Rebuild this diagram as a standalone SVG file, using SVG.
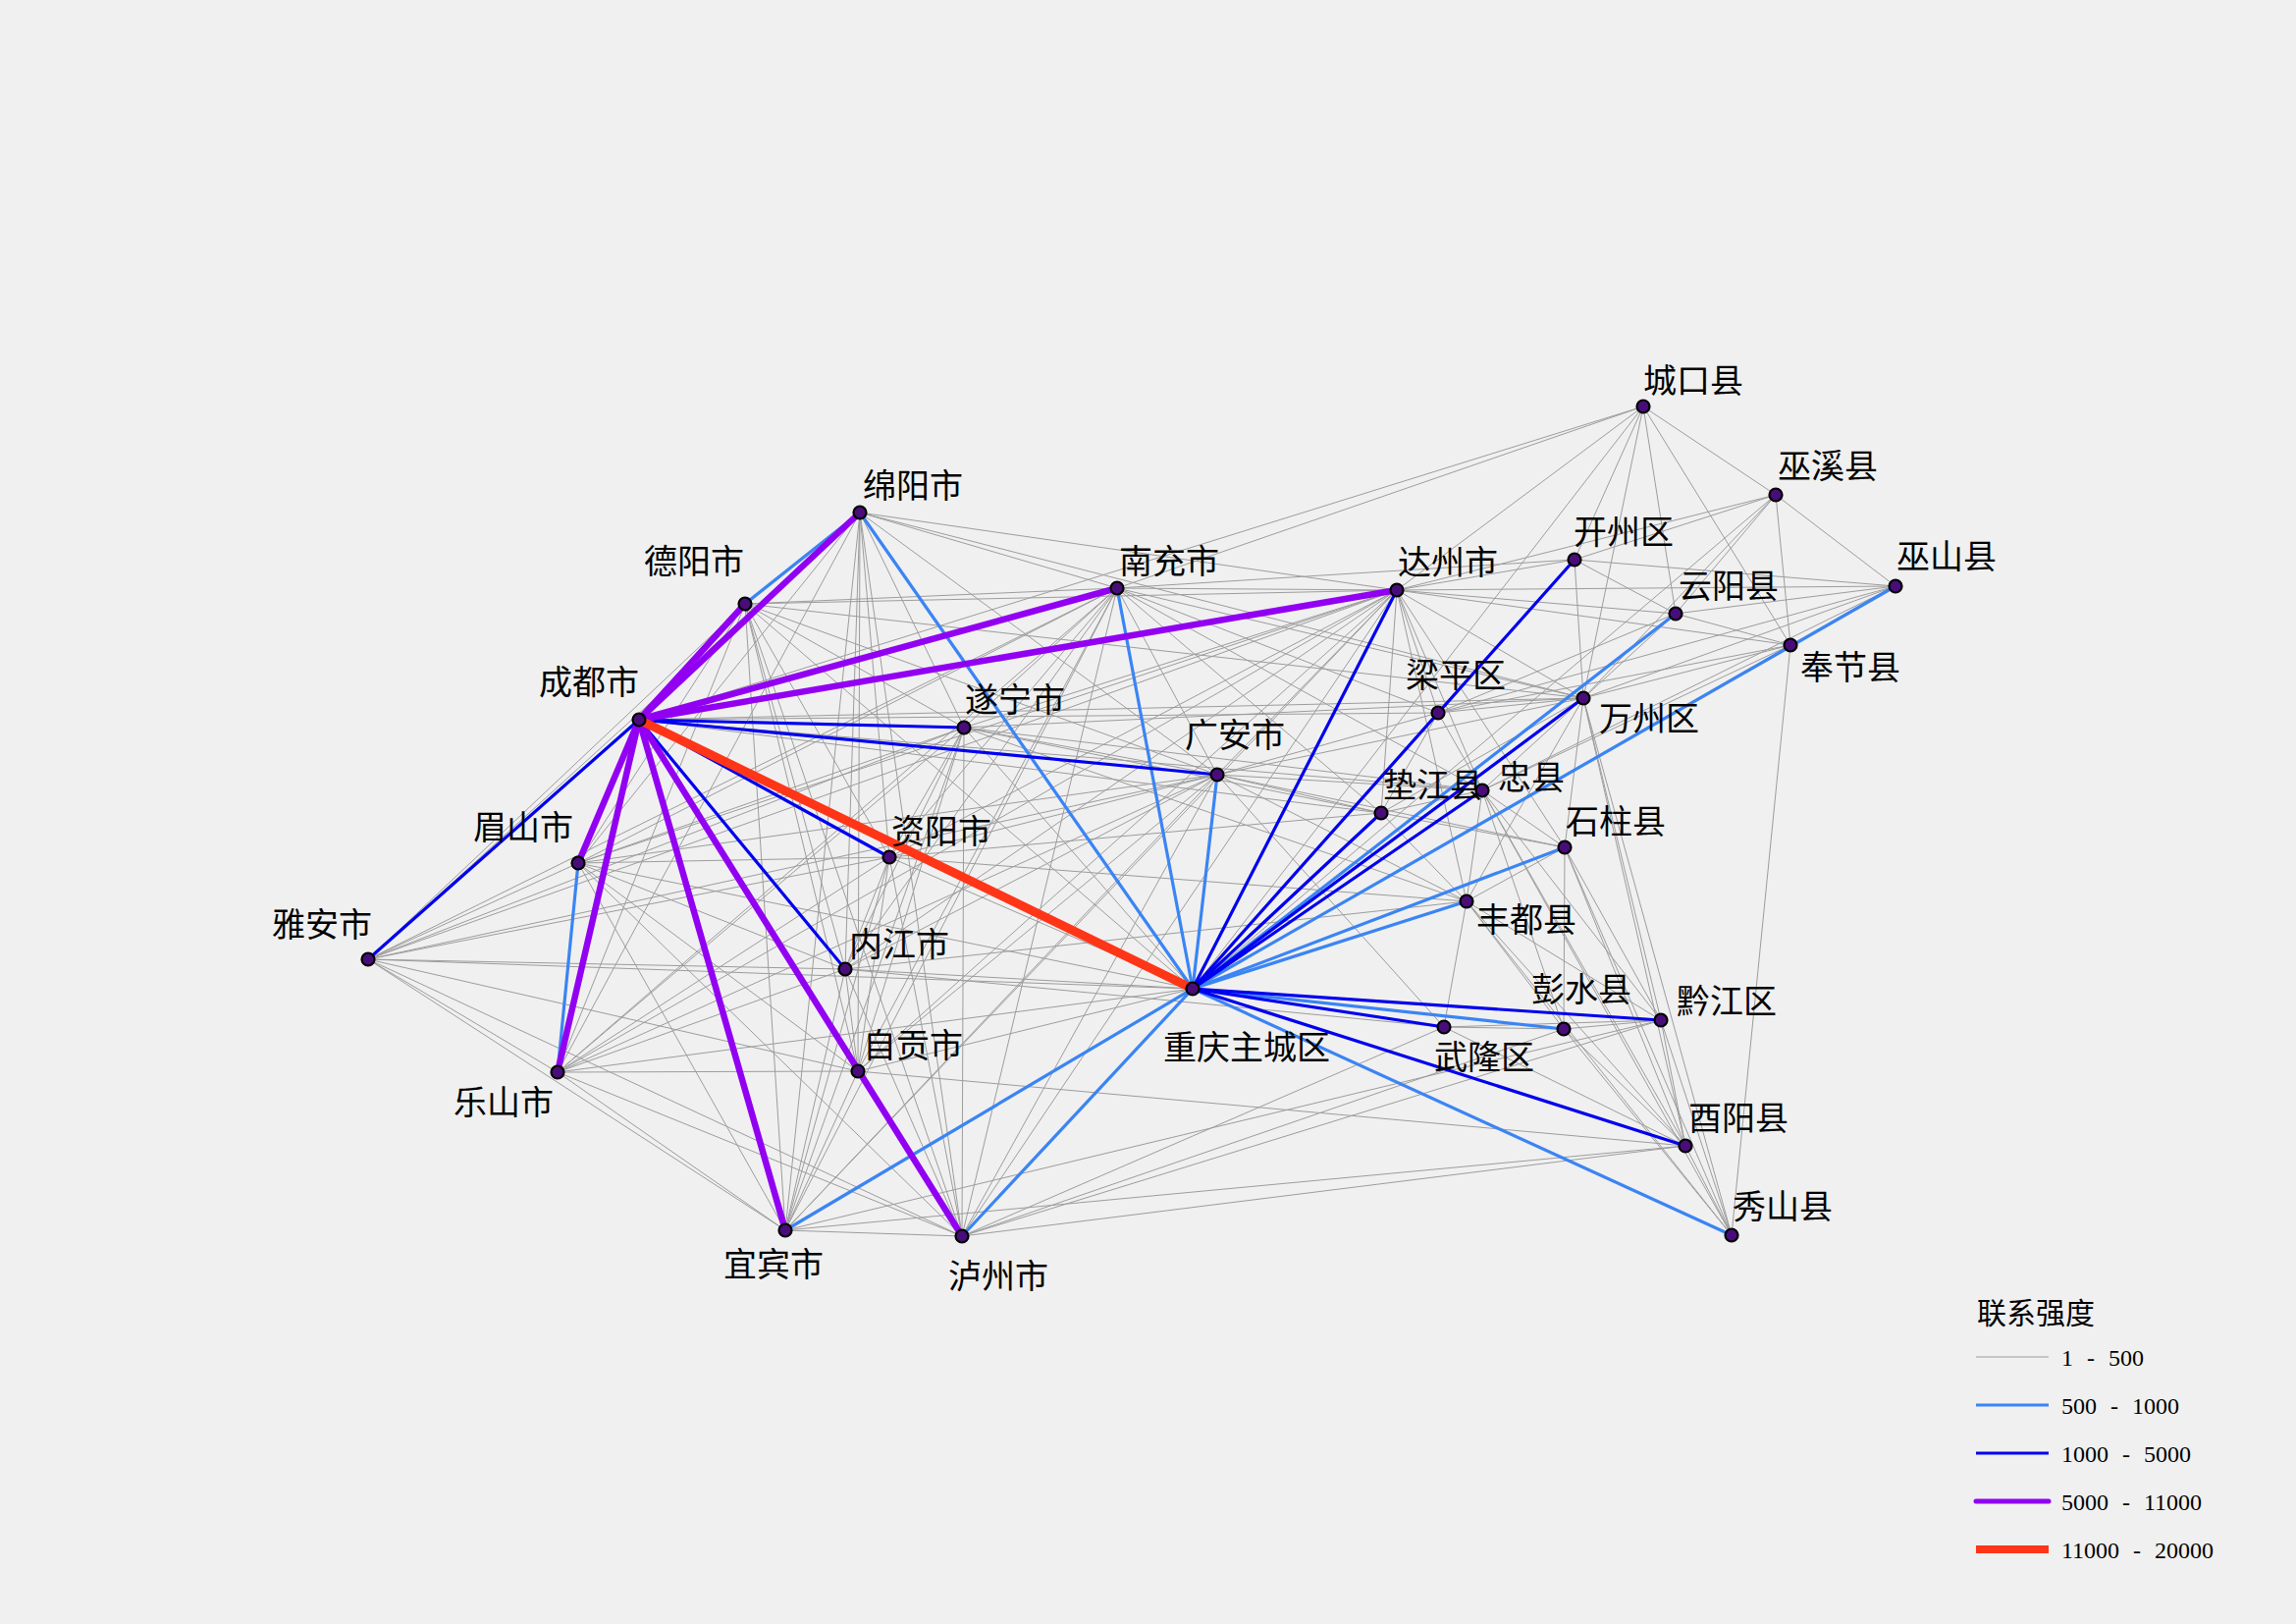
<svg xmlns="http://www.w3.org/2000/svg" width="2339" height="1654" viewBox="0 0 2339 1654">
<style>
.g line{stroke:#9c9c9c;stroke-width:1;fill:none}
.lb{stroke:#3b84f4;stroke-width:3.2;fill:none;stroke-linecap:round}
.bl{stroke:#0000ee;stroke-width:3.2;fill:none;stroke-linecap:round}
.pu{stroke:#9200f2;stroke-width:6.5;fill:none;stroke-linecap:round}
.rd{stroke:#ff3518;stroke-width:9;fill:none;stroke-linecap:round}
.node circle{fill:#480d79;stroke:#000;stroke-width:2.2}
.lbl{font-family:"Liberation Serif","Noto Sans CJK SC",serif;font-size:34px;fill:#000}
.lt{font-family:"Liberation Serif","Noto Sans CJK SC",serif;font-size:30px;fill:#000}
.ln{font-family:"Liberation Serif",serif;font-size:24px;fill:#000;word-spacing:8px}
</style>
<rect width="2339" height="1654" fill="#f0f0f0"/>
<g id="connectors">
<g class="g" id="edges-1-500">
<line x1="759" y1="615" x2="1138" y2="599"/><line x1="759" y1="615" x2="1423" y2="601"/><line x1="759" y1="615" x2="982" y2="741"/><line x1="759" y1="615" x2="1240" y2="789"/><line x1="759" y1="615" x2="589" y2="879"/><line x1="759" y1="615" x2="375" y2="977"/><line x1="759" y1="615" x2="906" y2="873"/><line x1="759" y1="615" x2="861" y2="987"/><line x1="759" y1="615" x2="568" y2="1092"/><line x1="759" y1="615" x2="874" y2="1091"/><line x1="759" y1="615" x2="800" y2="1253"/><line x1="759" y1="615" x2="980" y2="1259"/>
<line x1="876" y1="522" x2="1138" y2="599"/><line x1="876" y1="522" x2="1423" y2="601"/><line x1="876" y1="522" x2="982" y2="741"/><line x1="876" y1="522" x2="1240" y2="789"/><line x1="876" y1="522" x2="589" y2="879"/><line x1="876" y1="522" x2="375" y2="977"/><line x1="876" y1="522" x2="906" y2="873"/><line x1="876" y1="522" x2="861" y2="987"/><line x1="876" y1="522" x2="568" y2="1092"/><line x1="876" y1="522" x2="874" y2="1091"/><line x1="876" y1="522" x2="800" y2="1253"/><line x1="876" y1="522" x2="980" y2="1259"/>
<line x1="1138" y1="599" x2="1423" y2="601"/><line x1="1138" y1="599" x2="982" y2="741"/><line x1="1138" y1="599" x2="1240" y2="789"/><line x1="1138" y1="599" x2="589" y2="879"/><line x1="1138" y1="599" x2="375" y2="977"/><line x1="1138" y1="599" x2="906" y2="873"/><line x1="1138" y1="599" x2="861" y2="987"/><line x1="1138" y1="599" x2="568" y2="1092"/><line x1="1138" y1="599" x2="874" y2="1091"/><line x1="1138" y1="599" x2="800" y2="1253"/><line x1="1138" y1="599" x2="980" y2="1259"/>
<line x1="1423" y1="601" x2="982" y2="741"/><line x1="1423" y1="601" x2="1240" y2="789"/><line x1="1423" y1="601" x2="589" y2="879"/><line x1="1423" y1="601" x2="375" y2="977"/><line x1="1423" y1="601" x2="906" y2="873"/><line x1="1423" y1="601" x2="861" y2="987"/><line x1="1423" y1="601" x2="568" y2="1092"/><line x1="1423" y1="601" x2="874" y2="1091"/><line x1="1423" y1="601" x2="800" y2="1253"/><line x1="1423" y1="601" x2="980" y2="1259"/>
<line x1="982" y1="741" x2="1240" y2="789"/><line x1="982" y1="741" x2="589" y2="879"/><line x1="982" y1="741" x2="375" y2="977"/><line x1="982" y1="741" x2="906" y2="873"/><line x1="982" y1="741" x2="861" y2="987"/><line x1="982" y1="741" x2="568" y2="1092"/><line x1="982" y1="741" x2="874" y2="1091"/><line x1="982" y1="741" x2="800" y2="1253"/><line x1="982" y1="741" x2="980" y2="1259"/>
<line x1="1240" y1="789" x2="589" y2="879"/><line x1="1240" y1="789" x2="375" y2="977"/><line x1="1240" y1="789" x2="906" y2="873"/><line x1="1240" y1="789" x2="861" y2="987"/><line x1="1240" y1="789" x2="568" y2="1092"/><line x1="1240" y1="789" x2="874" y2="1091"/><line x1="1240" y1="789" x2="800" y2="1253"/><line x1="1240" y1="789" x2="980" y2="1259"/>
<line x1="589" y1="879" x2="375" y2="977"/><line x1="589" y1="879" x2="906" y2="873"/><line x1="589" y1="879" x2="861" y2="987"/><line x1="589" y1="879" x2="874" y2="1091"/><line x1="589" y1="879" x2="800" y2="1253"/><line x1="589" y1="879" x2="980" y2="1259"/>
<line x1="375" y1="977" x2="906" y2="873"/><line x1="375" y1="977" x2="861" y2="987"/><line x1="375" y1="977" x2="568" y2="1092"/><line x1="375" y1="977" x2="874" y2="1091"/><line x1="375" y1="977" x2="800" y2="1253"/><line x1="375" y1="977" x2="980" y2="1259"/>
<line x1="906" y1="873" x2="861" y2="987"/><line x1="906" y1="873" x2="568" y2="1092"/><line x1="906" y1="873" x2="874" y2="1091"/><line x1="906" y1="873" x2="800" y2="1253"/><line x1="906" y1="873" x2="980" y2="1259"/>
<line x1="861" y1="987" x2="568" y2="1092"/><line x1="861" y1="987" x2="874" y2="1091"/><line x1="861" y1="987" x2="800" y2="1253"/><line x1="861" y1="987" x2="980" y2="1259"/>
<line x1="568" y1="1092" x2="874" y2="1091"/><line x1="568" y1="1092" x2="800" y2="1253"/><line x1="568" y1="1092" x2="980" y2="1259"/>
<line x1="874" y1="1091" x2="800" y2="1253"/><line x1="874" y1="1091" x2="980" y2="1259"/>
<line x1="800" y1="1253" x2="980" y2="1259"/>
<line x1="1215" y1="1007" x2="759" y2="615"/><line x1="1215" y1="1007" x2="982" y2="741"/><line x1="1215" y1="1007" x2="589" y2="879"/><line x1="1215" y1="1007" x2="375" y2="977"/><line x1="1215" y1="1007" x2="906" y2="873"/><line x1="1215" y1="1007" x2="861" y2="987"/><line x1="1215" y1="1007" x2="568" y2="1092"/><line x1="1215" y1="1007" x2="874" y2="1091"/><line x1="1215" y1="1007" x2="1674" y2="414"/><line x1="1215" y1="1007" x2="1809" y2="504"/><line x1="1215" y1="1007" x2="1465" y2="726"/><line x1="1215" y1="1007" x2="1824" y2="657"/>
<line x1="1674" y1="414" x2="1809" y2="504"/><line x1="1674" y1="414" x2="1604" y2="570"/><line x1="1674" y1="414" x2="1707" y2="625"/><line x1="1674" y1="414" x2="1613" y2="711"/><line x1="1674" y1="414" x2="1824" y2="657"/>
<line x1="1809" y1="504" x2="1604" y2="570"/><line x1="1809" y1="504" x2="1707" y2="625"/><line x1="1809" y1="504" x2="1931" y2="597"/><line x1="1809" y1="504" x2="1824" y2="657"/><line x1="1809" y1="504" x2="1613" y2="711"/>
<line x1="1604" y1="570" x2="1707" y2="625"/><line x1="1604" y1="570" x2="1613" y2="711"/><line x1="1604" y1="570" x2="1931" y2="597"/><line x1="1604" y1="570" x2="1465" y2="726"/>
<line x1="1931" y1="597" x2="1707" y2="625"/><line x1="1931" y1="597" x2="1824" y2="657"/><line x1="1931" y1="597" x2="1613" y2="711"/><line x1="1931" y1="597" x2="1465" y2="726"/><line x1="1931" y1="597" x2="1510" y2="805"/>
<line x1="1707" y1="625" x2="1824" y2="657"/><line x1="1707" y1="625" x2="1613" y2="711"/><line x1="1707" y1="625" x2="1465" y2="726"/>
<line x1="1824" y1="657" x2="1764" y2="1258"/><line x1="1824" y1="657" x2="1465" y2="726"/><line x1="1824" y1="657" x2="1510" y2="805"/><line x1="1824" y1="657" x2="1613" y2="711"/>
<line x1="1465" y1="726" x2="1613" y2="711"/><line x1="1465" y1="726" x2="1407" y2="828"/><line x1="1465" y1="726" x2="1510" y2="805"/>
<line x1="1613" y1="711" x2="1510" y2="805"/><line x1="1613" y1="711" x2="1594" y2="863"/><line x1="1613" y1="711" x2="1407" y2="828"/><line x1="1613" y1="711" x2="1494" y2="918"/><line x1="1613" y1="711" x2="1692" y2="1039"/><line x1="1613" y1="711" x2="1717" y2="1167"/><line x1="1613" y1="711" x2="1764" y2="1258"/>
<line x1="1407" y1="828" x2="1510" y2="805"/><line x1="1407" y1="828" x2="1494" y2="918"/><line x1="1407" y1="828" x2="1594" y2="863"/>
<line x1="1510" y1="805" x2="1594" y2="863"/><line x1="1510" y1="805" x2="1494" y2="918"/><line x1="1510" y1="805" x2="1593" y2="1048"/><line x1="1510" y1="805" x2="1692" y2="1039"/><line x1="1510" y1="805" x2="1717" y2="1167"/><line x1="1510" y1="805" x2="1764" y2="1258"/>
<line x1="1594" y1="863" x2="1494" y2="918"/><line x1="1594" y1="863" x2="1593" y2="1048"/><line x1="1594" y1="863" x2="1692" y2="1039"/><line x1="1594" y1="863" x2="1717" y2="1167"/><line x1="1594" y1="863" x2="1764" y2="1258"/>
<line x1="1494" y1="918" x2="1471" y2="1046"/><line x1="1494" y1="918" x2="1593" y2="1048"/><line x1="1494" y1="918" x2="1692" y2="1039"/><line x1="1494" y1="918" x2="1717" y2="1167"/><line x1="1494" y1="918" x2="1764" y2="1258"/>
<line x1="1471" y1="1046" x2="1593" y2="1048"/><line x1="1471" y1="1046" x2="1692" y2="1039"/><line x1="1471" y1="1046" x2="1717" y2="1167"/>
<line x1="1593" y1="1048" x2="1692" y2="1039"/><line x1="1593" y1="1048" x2="1717" y2="1167"/><line x1="1593" y1="1048" x2="1764" y2="1258"/>
<line x1="1692" y1="1039" x2="1717" y2="1167"/><line x1="1692" y1="1039" x2="1764" y2="1258"/>
<line x1="1717" y1="1167" x2="1764" y2="1258"/>
<line x1="1423" y1="601" x2="1674" y2="414"/><line x1="1423" y1="601" x2="1809" y2="504"/><line x1="1423" y1="601" x2="1604" y2="570"/><line x1="1423" y1="601" x2="1931" y2="597"/><line x1="1423" y1="601" x2="1707" y2="625"/><line x1="1423" y1="601" x2="1824" y2="657"/><line x1="1423" y1="601" x2="1465" y2="726"/><line x1="1423" y1="601" x2="1613" y2="711"/><line x1="1423" y1="601" x2="1407" y2="828"/><line x1="1423" y1="601" x2="1510" y2="805"/><line x1="1423" y1="601" x2="1594" y2="863"/><line x1="1423" y1="601" x2="1494" y2="918"/>
<line x1="1138" y1="599" x2="1674" y2="414"/><line x1="1138" y1="599" x2="1604" y2="570"/><line x1="1138" y1="599" x2="1613" y2="711"/><line x1="1138" y1="599" x2="1465" y2="726"/><line x1="1138" y1="599" x2="1407" y2="828"/><line x1="1138" y1="599" x2="1510" y2="805"/>
<line x1="1240" y1="789" x2="1465" y2="726"/><line x1="1240" y1="789" x2="1613" y2="711"/><line x1="1240" y1="789" x2="1407" y2="828"/><line x1="1240" y1="789" x2="1510" y2="805"/><line x1="1240" y1="789" x2="1494" y2="918"/><line x1="1240" y1="789" x2="1594" y2="863"/><line x1="1240" y1="789" x2="1471" y2="1046"/>
<line x1="982" y1="741" x2="1613" y2="711"/><line x1="982" y1="741" x2="1407" y2="828"/><line x1="982" y1="741" x2="1510" y2="805"/><line x1="982" y1="741" x2="1494" y2="918"/>
<line x1="651" y1="733" x2="1674" y2="414"/><line x1="876" y1="522" x2="1613" y2="711"/>
<line x1="759" y1="615" x2="1613" y2="711"/>
<line x1="906" y1="873" x2="1407" y2="828"/><line x1="906" y1="873" x2="1494" y2="918"/>
<line x1="861" y1="987" x2="1494" y2="918"/><line x1="861" y1="987" x2="1471" y2="1046"/>
<line x1="980" y1="1259" x2="1692" y2="1039"/><line x1="980" y1="1259" x2="1717" y2="1167"/><line x1="980" y1="1259" x2="1471" y2="1046"/><line x1="980" y1="1259" x2="1593" y2="1048"/>
<line x1="800" y1="1253" x2="1717" y2="1167"/><line x1="800" y1="1253" x2="1692" y2="1039"/>
<line x1="874" y1="1091" x2="1717" y2="1167"/>
<line x1="651" y1="733" x2="1613" y2="711"/><line x1="651" y1="733" x2="1465" y2="726"/><line x1="651" y1="733" x2="1407" y2="828"/><line x1="651" y1="733" x2="1510" y2="805"/>
</g>
<g id="edges-500-1000">
<line class="lb" x1="759" y1="615" x2="876" y2="522"/>
<line class="lb" x1="589" y1="879" x2="568" y2="1092"/>
<line class="lb" x1="1215" y1="1007" x2="876" y2="522"/>
<line class="lb" x1="1215" y1="1007" x2="1138" y2="599"/>
<line class="lb" x1="1215" y1="1007" x2="1240" y2="789"/>
<line class="lb" x1="1215" y1="1007" x2="800" y2="1253"/>
<line class="lb" x1="1215" y1="1007" x2="980" y2="1259"/>
<line class="lb" x1="1215" y1="1007" x2="1707" y2="625"/>
<line class="lb" x1="1215" y1="1007" x2="1931" y2="597"/>
<line class="lb" x1="1215" y1="1007" x2="1594" y2="863"/>
<line class="lb" x1="1215" y1="1007" x2="1494" y2="918"/>
<line class="lb" x1="1215" y1="1007" x2="1593" y2="1048"/>
<line class="lb" x1="1215" y1="1007" x2="1764" y2="1258"/>
</g>
<g id="edges-1000-5000">
<line class="bl" x1="651" y1="733" x2="375" y2="977"/>
<line class="bl" x1="651" y1="733" x2="982" y2="741"/>
<line class="bl" x1="651" y1="733" x2="1240" y2="789"/>
<line class="bl" x1="651" y1="733" x2="906" y2="873"/>
<line class="bl" x1="651" y1="733" x2="861" y2="987"/>
<line class="bl" x1="1215" y1="1007" x2="1423" y2="601"/>
<line class="bl" x1="1215" y1="1007" x2="1604" y2="570"/>
<line class="bl" x1="1215" y1="1007" x2="1613" y2="711"/>
<line class="bl" x1="1215" y1="1007" x2="1407" y2="828"/>
<line class="bl" x1="1215" y1="1007" x2="1510" y2="805"/>
<line class="bl" x1="1215" y1="1007" x2="1692" y2="1039"/>
<line class="bl" x1="1215" y1="1007" x2="1471" y2="1046"/>
<line class="bl" x1="1215" y1="1007" x2="1717" y2="1167"/>
</g>
<g id="edges-5000-11000">
<line class="pu" x1="651" y1="733" x2="876" y2="522"/>
<line class="pu" x1="651" y1="733" x2="759" y2="615"/>
<line class="pu" x1="651" y1="733" x2="1138" y2="599"/>
<line class="pu" x1="651" y1="733" x2="1423" y2="601"/>
<line class="pu" x1="651" y1="733" x2="589" y2="879"/>
<line class="pu" x1="651" y1="733" x2="568" y2="1092"/>
<line class="pu" x1="651" y1="733" x2="800" y2="1253"/>
<line class="pu" x1="651" y1="733" x2="980" y2="1259"/>
</g>
<g id="edges-11000-20000">
<line class="rd" x1="651" y1="733" x2="1215" y2="1007"/>
</g>
</g>
<g id="nodes">
<g class="node" id="n-chengdu"><circle cx="651" cy="733" r="6.5"/><text class="lbl" x="549" y="707">成都市</text></g>
<g class="node" id="n-chongqing"><circle cx="1215" cy="1007" r="6.5"/><text class="lbl" x="1185" y="1079">重庆主城区</text></g>
<g class="node" id="n-mianyang"><circle cx="876" cy="522" r="6.5"/><text class="lbl" x="879" y="507">绵阳市</text></g>
<g class="node" id="n-deyang"><circle cx="759" cy="615" r="6.5"/><text class="lbl" x="656" y="584">德阳市</text></g>
<g class="node" id="n-nanchong"><circle cx="1138" cy="599" r="6.5"/><text class="lbl" x="1140" y="584">南充市</text></g>
<g class="node" id="n-dazhou"><circle cx="1423" cy="601" r="6.5"/><text class="lbl" x="1424" y="585">达州市</text></g>
<g class="node" id="n-suining"><circle cx="982" cy="741" r="6.5"/><text class="lbl" x="983" y="725">遂宁市</text></g>
<g class="node" id="n-guangan"><circle cx="1240" cy="789" r="6.5"/><text class="lbl" x="1207" y="761">广安市</text></g>
<g class="node" id="n-meishan"><circle cx="589" cy="879" r="6.5"/><text class="lbl" x="482" y="855">眉山市</text></g>
<g class="node" id="n-yaan"><circle cx="375" cy="977" r="6.5"/><text class="lbl" x="277" y="954">雅安市</text></g>
<g class="node" id="n-ziyang"><circle cx="906" cy="873" r="6.5"/><text class="lbl" x="908" y="859">资阳市</text></g>
<g class="node" id="n-neijiang"><circle cx="861" cy="987" r="6.5"/><text class="lbl" x="865" y="974">内江市</text></g>
<g class="node" id="n-leshan"><circle cx="568" cy="1092" r="6.5"/><text class="lbl" x="462" y="1135">乐山市</text></g>
<g class="node" id="n-zigong"><circle cx="874" cy="1091" r="6.5"/><text class="lbl" x="879" y="1077">自贡市</text></g>
<g class="node" id="n-yibin"><circle cx="800" cy="1253" r="6.5"/><text class="lbl" x="737" y="1300">宜宾市</text></g>
<g class="node" id="n-luzhou"><circle cx="980" cy="1259" r="6.5"/><text class="lbl" x="966" y="1312">泸州市</text></g>
<g class="node" id="n-chengkou"><circle cx="1674" cy="414" r="6.5"/><text class="lbl" x="1674" y="400">城口县</text></g>
<g class="node" id="n-wuxi"><circle cx="1809" cy="504" r="6.5"/><text class="lbl" x="1811" y="487">巫溪县</text></g>
<g class="node" id="n-kaizhou"><circle cx="1604" cy="570" r="6.5"/><text class="lbl" x="1603" y="554">开州区</text></g>
<g class="node" id="n-wushan"><circle cx="1931" cy="597" r="6.5"/><text class="lbl" x="1932" y="579">巫山县</text></g>
<g class="node" id="n-yunyang"><circle cx="1707" cy="625" r="6.5"/><text class="lbl" x="1710" y="609">云阳县</text></g>
<g class="node" id="n-fengjie"><circle cx="1824" cy="657" r="6.5"/><text class="lbl" x="1834" y="692">奉节县</text></g>
<g class="node" id="n-liangping"><circle cx="1465" cy="726" r="6.5"/><text class="lbl" x="1432" y="700">梁平区</text></g>
<g class="node" id="n-wanzhou"><circle cx="1613" cy="711" r="6.5"/><text class="lbl" x="1629" y="744">万州区</text></g>
<g class="node" id="n-dianjiang"><circle cx="1407" cy="828" r="6.5"/><text class="lbl" x="1409" y="812">垫江县</text></g>
<g class="node" id="n-zhongxian"><circle cx="1510" cy="805" r="6.5"/><text class="lbl" x="1526" y="804">忠县</text></g>
<g class="node" id="n-shizhu"><circle cx="1594" cy="863" r="6.5"/><text class="lbl" x="1595" y="849">石柱县</text></g>
<g class="node" id="n-fengdu"><circle cx="1494" cy="918" r="6.5"/><text class="lbl" x="1504" y="949">丰都县</text></g>
<g class="node" id="n-pengshui"><circle cx="1593" cy="1048" r="6.5"/><text class="lbl" x="1560" y="1020">彭水县</text></g>
<g class="node" id="n-qianjiang"><circle cx="1692" cy="1039" r="6.5"/><text class="lbl" x="1708" y="1032">黔江区</text></g>
<g class="node" id="n-wulong"><circle cx="1471" cy="1046" r="6.5"/><text class="lbl" x="1461" y="1089">武隆区</text></g>
<g class="node" id="n-youyang"><circle cx="1717" cy="1167" r="6.5"/><text class="lbl" x="1720" y="1151">酉阳县</text></g>
<g class="node" id="n-xiushan"><circle cx="1764" cy="1258" r="6.5"/><text class="lbl" x="1765" y="1241">秀山县</text></g>
</g>
<g id="legend">
<text class="lt" x="2014" y="1348">联系强度</text>
<line x1="2013" y1="1382" x2="2087" y2="1382" stroke="#9c9c9c" stroke-width="1"/>
<line x1="2013" y1="1431" x2="2087" y2="1431" stroke="#3b84f4" stroke-width="3.2"/>
<line x1="2013" y1="1480" x2="2087" y2="1480" stroke="#0000ee" stroke-width="3"/>
<line x1="2013" y1="1529" x2="2087" y2="1529" stroke="#9200f2" stroke-width="5" stroke-linecap="round"/>
<line x1="2013" y1="1578" x2="2087" y2="1578" stroke="#ff3518" stroke-width="8"/>
<text class="ln" x="2100" y="1391">1 - 500</text>
<text class="ln" x="2100" y="1440">500 - 1000</text>
<text class="ln" x="2100" y="1489">1000 - 5000</text>
<text class="ln" x="2100" y="1538">5000 - 11000</text>
<text class="ln" x="2100" y="1587">11000 - 20000</text>
</g>
</svg>
